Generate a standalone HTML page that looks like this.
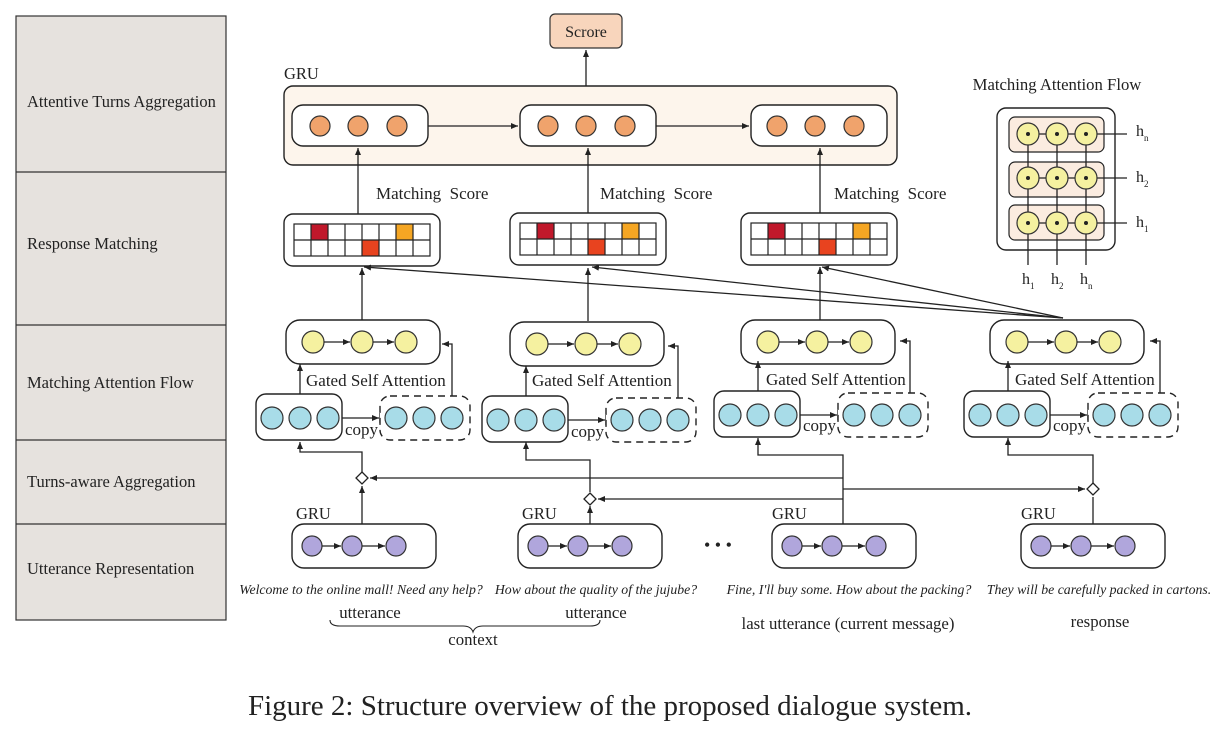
<!DOCTYPE html>
<html><head><meta charset="utf-8"><style>
html,body{margin:0;padding:0;background:#fff;}
svg{display:block;}
text{font-family:"Liberation Serif",serif;fill:#222;}
</style></head><body>
<svg width="1232" height="739" viewBox="0 0 1232 739" xmlns="http://www.w3.org/2000/svg">
<defs>
<marker id="ah" markerWidth="8" markerHeight="8" refX="7" refY="4" orient="auto" markerUnits="userSpaceOnUse"><path d="M0,1 L7,4 L0,7 z" fill="#222"/></marker>
<g id="oc"><circle cx="0" cy="0" r="10" fill="#f0a36c" stroke="#333" stroke-width="1.2"/></g>
<g id="yc"><circle cx="0" cy="0" r="11" fill="#f5f1a0" stroke="#333" stroke-width="1.2"/></g>
<g id="bc"><circle cx="0" cy="0" r="11" fill="#a8dce8" stroke="#333" stroke-width="1.2"/></g>
<g id="pc"><circle cx="0" cy="0" r="10" fill="#b0a6dc" stroke="#333" stroke-width="1.2"/></g>
<g id="grid">
<rect x="0" y="0" width="156" height="52" rx="9" fill="#fff" stroke="#222" stroke-width="1.4"/>
<rect x="27" y="10" width="17" height="16" fill="#c0182b"/>
<rect x="112" y="10" width="17" height="16" fill="#f5a623"/>
<rect x="78" y="26" width="17" height="16" fill="#e8431f"/>
<g stroke="#222" stroke-width="1.2" fill="none">
<rect x="10" y="10" width="136" height="32"/>
<line x1="10" y1="26" x2="146" y2="26"/>
<line x1="27" y1="10" x2="27" y2="42"/><line x1="44" y1="10" x2="44" y2="42"/><line x1="61" y1="10" x2="61" y2="42"/><line x1="78" y1="10" x2="78" y2="42"/><line x1="95" y1="10" x2="95" y2="42"/><line x1="112" y1="10" x2="112" y2="42"/><line x1="129" y1="10" x2="129" y2="42"/>
</g>
</g>
<g id="att">
<rect x="0" y="0" width="154" height="44" rx="14" fill="#fff" stroke="#222" stroke-width="1.4"/>
<use href="#yc" x="27" y="22"/><use href="#yc" x="76" y="22"/><use href="#yc" x="120" y="22"/>
<line x1="38" y1="22" x2="64" y2="22" stroke="#222" stroke-width="1.3" marker-end="url(#ah)"/>
<line x1="87" y1="22" x2="108" y2="22" stroke="#222" stroke-width="1.3" marker-end="url(#ah)"/>
</g>
<g id="blue">
<rect x="0" y="0" width="86" height="46" rx="10" fill="#fff" stroke="#222" stroke-width="1.4"/>
<use href="#bc" x="16" y="24"/><use href="#bc" x="44" y="24"/><use href="#bc" x="72" y="24"/>
<line x1="86" y1="24" x2="123" y2="24" stroke="#222" stroke-width="1.3" marker-end="url(#ah)"/>
<line x1="124" y1="19" x2="124" y2="29" stroke="#222" stroke-width="1.3"/>
<rect x="124" y="2" width="90" height="44" rx="10" fill="#fff" stroke="#222" stroke-width="1.4" stroke-dasharray="7,5"/>
<use href="#bc" x="140" y="24"/><use href="#bc" x="168" y="24"/><use href="#bc" x="196" y="24"/>
<polyline points="44,0 44,-30" fill="none" stroke="#222" stroke-width="1.3" marker-end="url(#ah)"/>
<polyline points="196,2 196,-50 186,-50" fill="none" stroke="#222" stroke-width="1.3" marker-end="url(#ah)"/>
</g>
<g id="gru">
<rect x="0" y="0" width="144" height="44" rx="12" fill="#fff" stroke="#222" stroke-width="1.4"/>
<use href="#pc" x="20" y="22"/><use href="#pc" x="60" y="22"/><use href="#pc" x="104" y="22"/>
<line x1="30" y1="22" x2="49" y2="22" stroke="#222" stroke-width="1.3" marker-end="url(#ah)"/>
<line x1="70" y1="22" x2="93" y2="22" stroke="#222" stroke-width="1.3" marker-end="url(#ah)"/>
</g>
<g id="diam"><path d="M0,-6 L6,0 L0,6 L-6,0 z" fill="#fff" stroke="#222" stroke-width="1.3"/></g>
<g id="mc">
<circle r="11" fill="#f5f1a0" stroke="#333" stroke-width="1.2"/><circle r="2" fill="#222"/>
</g>
</defs>

<!-- left panel -->
<rect x="16" y="16" width="210" height="604" fill="#e6e2de" stroke="#333" stroke-width="1.2"/>
<g stroke="#333" stroke-width="1.2">
<line x1="16" y1="172" x2="226" y2="172"/><line x1="16" y1="325" x2="226" y2="325"/>
<line x1="16" y1="440" x2="226" y2="440"/><line x1="16" y1="524" x2="226" y2="524"/>
</g>
<g font-size="16.5">
<text x="27" y="107">Attentive Turns Aggregation</text>
<text x="27" y="249">Response Matching</text>
<text x="27" y="388">Matching Attention Flow</text>
<text x="27" y="487">Turns-aware Aggregation</text>
<text x="27" y="574">Utterance Representation</text>
</g>

<!-- score -->
<rect x="550" y="14" width="72" height="34" rx="5" fill="#f8d5bc" stroke="#333" stroke-width="1.2"/>
<text x="586" y="37" font-size="16" text-anchor="middle">Scrore</text>
<line x1="586" y1="86" x2="586" y2="50" stroke="#222" stroke-width="1.3" marker-end="url(#ah)"/>

<!-- top GRU -->
<text x="284" y="79" font-size="16.5">GRU</text>
<rect x="284" y="86" width="613" height="79" rx="9" fill="#fdf5ec" stroke="#222" stroke-width="1.4"/>
<g>
<rect x="292" y="105" width="136" height="41" rx="11" fill="#fff" stroke="#222" stroke-width="1.4"/>
<use href="#oc" x="320" y="126"/><use href="#oc" x="358" y="126"/><use href="#oc" x="397" y="126"/>
<rect x="520" y="105" width="136" height="41" rx="11" fill="#fff" stroke="#222" stroke-width="1.4"/>
<use href="#oc" x="548" y="126"/><use href="#oc" x="586" y="126"/><use href="#oc" x="625" y="126"/>
<rect x="751" y="105" width="136" height="41" rx="11" fill="#fff" stroke="#222" stroke-width="1.4"/>
<use href="#oc" x="777" y="126"/><use href="#oc" x="815" y="126"/><use href="#oc" x="854" y="126"/>
<line x1="428" y1="126" x2="518" y2="126" stroke="#222" stroke-width="1.3" marker-end="url(#ah)"/>
<line x1="656" y1="126" x2="749" y2="126" stroke="#222" stroke-width="1.3" marker-end="url(#ah)"/>
</g>
<g stroke="#222" stroke-width="1.3">
<line x1="358" y1="214" x2="358" y2="148" marker-end="url(#ah)"/>
<line x1="588" y1="214" x2="588" y2="148" marker-end="url(#ah)"/>
<line x1="820" y1="214" x2="820" y2="148" marker-end="url(#ah)"/>
</g>
<g font-size="17">
<text x="376" y="199" xml:space="preserve">Matching  Score</text>
<text x="600" y="199" xml:space="preserve">Matching  Score</text>
<text x="834" y="199" xml:space="preserve">Matching  Score</text>
</g>

<!-- matching grids -->
<use href="#grid" x="284" y="214"/>
<use href="#grid" x="510" y="213"/>
<use href="#grid" x="741" y="213"/>

<!-- fan lines -->
<g stroke="#222" stroke-width="1.3" fill="none">
<line x1="1063" y1="318" x2="364" y2="267" marker-end="url(#ah)"/>
<line x1="1063" y1="318" x2="592" y2="267" marker-end="url(#ah)"/>
<line x1="1063" y1="318" x2="822" y2="267" marker-end="url(#ah)"/>
<line x1="362" y1="320" x2="362" y2="268" marker-end="url(#ah)"/>
<line x1="588" y1="321" x2="588" y2="268" marker-end="url(#ah)"/>
<line x1="820" y1="320" x2="820" y2="267" marker-end="url(#ah)"/>
</g>

<!-- attention boxes -->
<use href="#att" x="286" y="320"/>
<use href="#att" x="510" y="322"/>
<use href="#att" x="741" y="320"/>
<use href="#att" x="990" y="320"/>
<!-- blue boxes -->
<use href="#blue" x="256" y="394"/>
<use href="#blue" x="482" y="396"/>
<use href="#blue" x="714" y="391"/>
<use href="#blue" x="964" y="391"/>
<g font-size="17">
<text x="306" y="386">Gated Self Attention</text>
<text x="532" y="386">Gated Self Attention</text>
<text x="766" y="385">Gated Self Attention</text>
<text x="1015" y="385">Gated Self Attention</text>
<text x="345" y="435">copy</text>
<text x="571" y="437">copy</text>
<text x="803" y="431">copy</text>
<text x="1053" y="431">copy</text>
</g>

<!-- GRU bottom -->
<use href="#gru" x="292" y="524"/>
<use href="#gru" x="518" y="524"/>
<use href="#gru" x="772" y="524"/>
<use href="#gru" x="1021" y="524"/>
<g font-size="16.5">
<text x="296" y="519">GRU</text><text x="522" y="519">GRU</text>
<text x="772" y="519">GRU</text><text x="1021" y="519">GRU</text>
</g>
<text x="704" y="551" font-size="18">• • •</text>

<!-- aggregation connectors -->
<g stroke="#222" stroke-width="1.3" fill="none">
<line x1="362" y1="524" x2="362" y2="486" marker-end="url(#ah)"/>
<polyline points="362,472 362,452 300,452 300,442" marker-end="url(#ah)"/>
<line x1="590" y1="524" x2="590" y2="506" marker-end="url(#ah)"/>
<polyline points="590,492 590,460 526,460 526,442" marker-end="url(#ah)"/>
<polyline points="843,524 843,455 758,455 758,438" marker-end="url(#ah)"/>
<line x1="843" y1="478" x2="370" y2="478" marker-end="url(#ah)"/>
<line x1="843" y1="499" x2="598" y2="499" marker-end="url(#ah)"/>
<line x1="843" y1="489" x2="1085" y2="489" marker-end="url(#ah)"/>
<line x1="1093" y1="524" x2="1093" y2="497" />
<polyline points="1093,483 1093,455 1008,455 1008,438" marker-end="url(#ah)"/>
</g>
<use href="#diam" x="362" y="478"/>
<use href="#diam" x="590" y="499"/>
<use href="#diam" x="1093" y="489"/>

<!-- bottom texts -->
<g font-size="13.8" font-style="italic" text-anchor="middle">
<text x="361" y="594">Welcome to the online mall! Need any help?</text>
<text x="596" y="594">How about the quality of the jujube?</text>
<text x="849" y="594">Fine, I'll buy some. How about the packing?</text>
<text x="1099" y="594">They will be carefully packed in cartons.</text>
</g>
<g font-size="16.8" text-anchor="middle">
<text x="370" y="618">utterance</text>
<text x="596" y="618">utterance</text>
<text x="848" y="629">last utterance (current message)</text>
<text x="1100" y="627">response</text>
<text x="473" y="645">context</text>
</g>
<path d="M330,620 Q330,626 340,626 L463,626 Q471,626 473,632 Q475,626 483,626 L590,626 Q600,626 600,620" fill="none" stroke="#222" stroke-width="1.1"/>

<!-- Matching attention flow inset -->
<text x="1057" y="90" font-size="16.7" text-anchor="middle">Matching Attention Flow</text>
<rect x="997" y="108" width="118" height="142" rx="9" fill="#fff" stroke="#222" stroke-width="1.4"/>
<g fill="#fbece0" stroke="#222" stroke-width="1.2">
<rect x="1009" y="117" width="95" height="35" rx="6"/>
<rect x="1009" y="162" width="95" height="35" rx="6"/>
<rect x="1009" y="205" width="95" height="35" rx="6"/>
</g>
<g stroke="#222" stroke-width="1.3">
<line x1="1028" y1="134" x2="1028" y2="265"/><line x1="1057" y1="134" x2="1057" y2="265"/><line x1="1086" y1="134" x2="1086" y2="265"/>
<line x1="1028" y1="134" x2="1127" y2="134"/><line x1="1028" y1="178" x2="1127" y2="178"/><line x1="1028" y1="223" x2="1127" y2="223"/>
</g>
<use href="#mc" x="1028" y="134"/><use href="#mc" x="1057" y="134"/><use href="#mc" x="1086" y="134"/>
<use href="#mc" x="1028" y="178"/><use href="#mc" x="1057" y="178"/><use href="#mc" x="1086" y="178"/>
<use href="#mc" x="1028" y="223"/><use href="#mc" x="1057" y="223"/><use href="#mc" x="1086" y="223"/>
<g font-size="16">
<text x="1136" y="136">h<tspan font-size="9" dy="5">n</tspan></text>
<text x="1136" y="182">h<tspan font-size="9" dy="5">2</tspan></text>
<text x="1136" y="227">h<tspan font-size="9" dy="5">1</tspan></text>
<text x="1022" y="284">h<tspan font-size="9" dy="5">1</tspan></text>
<text x="1051" y="284">h<tspan font-size="9" dy="5">2</tspan></text>
<text x="1080" y="284">h<tspan font-size="9" dy="5">n</tspan></text>
</g>

<!-- caption -->
<text x="610" y="715" font-size="29" text-anchor="middle">Figure 2: Structure overview of the proposed dialogue system.</text>
</svg>
</body></html>
